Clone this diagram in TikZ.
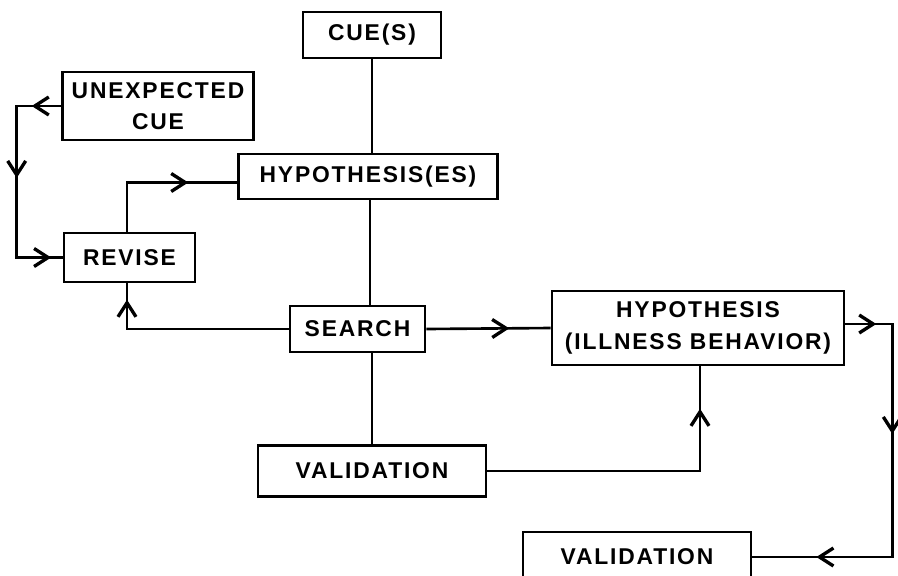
\documentclass[tikz,border=0pt]{standalone}
\usepackage{fontspec}
\setmainfont[LetterSpace=8]{Liberation Sans}
\usetikzlibrary{arrows.meta,decorations.markings,calc}

\begin{document}
\begin{tikzpicture}[x=0.02cm,y=-0.02cm,line width=1.5pt,
  box/.style={draw,align=center,inner sep=0pt,font=\fontsize{13}{18}\selectfont\bfseries},
  >={Straight Barb[length=2.8mm,width=3.6mm,line width=1.9pt]},
  tipat/.style={postaction={decorate,decoration={markings,mark=at position #1 with {\arrow{>}}}}}]
\useasboundingbox (0,0) rectangle (898,575);
% boxes
\node[box,minimum width=2.76cm,minimum height=0.92cm] (cues) at (372,35) {CUE(S)};
\node[box,minimum width=3.82cm,minimum height=1.36cm] (unexp) at (158,106) {UNEXPECTED\\CUE};
\node[box,minimum width=5.18cm,minimum height=0.9cm] (hyp) at (368,176.5) {HYPOTHESIS(ES)};
\node[box,minimum width=2.62cm,minimum height=0.98cm] (revise) at (129.5,257.5) {REVISE};
\node[box,minimum width=2.7cm,minimum height=0.92cm] (search) at (357.5,329) {SEARCH};
\node[box,minimum width=5.84cm,minimum height=1.48cm] (hypill) at (698,328) {HYPOTHESIS\\(ILLNESS BEHAVIOR)};
\node[box,minimum width=4.56cm,minimum height=1.02cm] (valid) at (372,471) {VALIDATION};
\node[box,minimum width=4.56cm,minimum height=1cm] (validb) at (637,557) {VALIDATION};
% plain links
\draw (cues.south) -- (cues.south |- hyp.north);
\draw ($(hyp.south)+(2,0)$) -- ($(hyp.south |- search.north)+(2,0)$);
\draw (search.south -| cues) -- (valid.north);
% arrowed links
\draw[tipat=0.59cm,tipat=2.33cm,tipat=4.61cm] (unexp.west) -- ++(-44.5,0) |- (revise.west);
\draw[tipat=2.21cm] ($(revise.north)+(-2.5,0)$) |- ($(hyp.west)+(0,6)$);
\draw[tipat=3.82cm] (search.west) -| ($(revise.south)+(-2.5,0)$);
\draw[tipat=1.66cm] (search.east) -- (hypill.west);
\draw[tipat=5.5cm] (valid.east) -| ($(hypill.south)+(2,0)$);
\draw[tipat=0.62cm,tipat=3.14cm,tipat=7.12cm] ($(hypill.east)+(0,-4)$) -- ++(47,0) |- (validb.east);
\end{tikzpicture}
\end{document}
